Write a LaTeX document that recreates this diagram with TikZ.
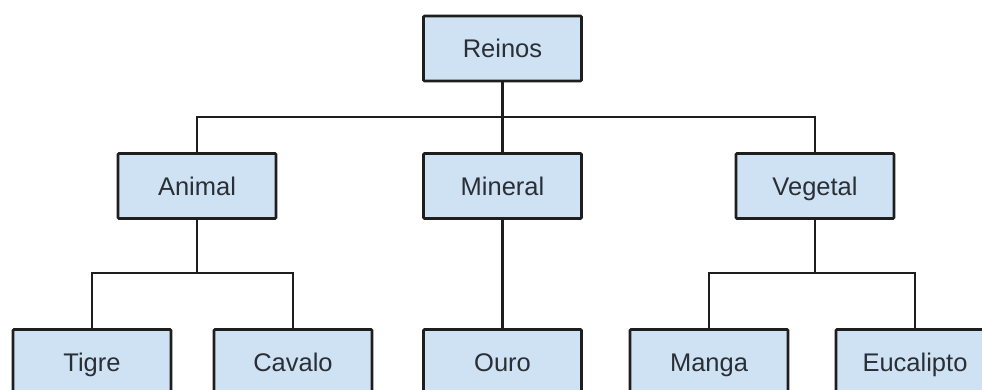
\documentclass[tikz,border=0pt]{standalone}
\usepackage{fontspec}
\setmainfont{Liberation Sans}
\definecolor{boxfill}{HTML}{CFE2F3}
\definecolor{boxline}{HTML}{1E1E1E}
\definecolor{txt}{HTML}{2A2F36}
\tikzset{
  box/.style={draw=boxline, line width=2.6pt, fill=boxfill, rounded corners=1pt,
    minimum width=158pt, minimum height=65pt, inner sep=0pt, text=txt,
    text height=18.3pt, text depth=0pt,
    font=\fontsize{25.5}{30}\selectfont},
  link/.style={draw=boxline, line width=2.8pt}
}
\begin{document}
\begin{tikzpicture}[x=1pt,y=-1pt]
  \clip (0,0) rectangle (982,389);
  \fill[white] (0,0) rectangle (982,389);

  % tree levels
  \node[box] (reinos)    at (502.5,48.5) {Reinos};
  \node[box] (animal)    at (197,186)    {Animal};
  \node[box] (mineral)   at (502.5,186)  {Mineral};
  \node[box] (vegetal)   at (815,186)    {Vegetal};
  \node[box] (tigre)     at (92,362)     {Tigre};
  \node[box] (cavalo)    at (293,362)    {Cavalo};
  \node[box] (ouro)      at (502.5,362)  {Ouro};
  \node[box] (manga)     at (709,362)    {Manga};
  \node[box] (eucalipto) at (915,362)    {Eucalipto};

  % junction points
  \coordinate (j1) at (502.5,117);
  \coordinate (ja) at (197,273);
  \coordinate (jv) at (815,273);

  % connectors
  \draw[link] (reinos.south) -- (j1);
  \draw[link] (animal.north) |- (j1) -| (vegetal.north);
  \draw[link] (j1) -- (mineral.north);
  \draw[link] (mineral.south) -- (ouro.north);

  \draw[link] (animal.south) -- (ja);
  \draw[link] (tigre.north) |- (ja) -| (cavalo.north);

  \draw[link] (vegetal.south) -- (jv);
  \draw[link] (manga.north) |- (jv) -| (eucalipto.north);
\end{tikzpicture}
\end{document}
